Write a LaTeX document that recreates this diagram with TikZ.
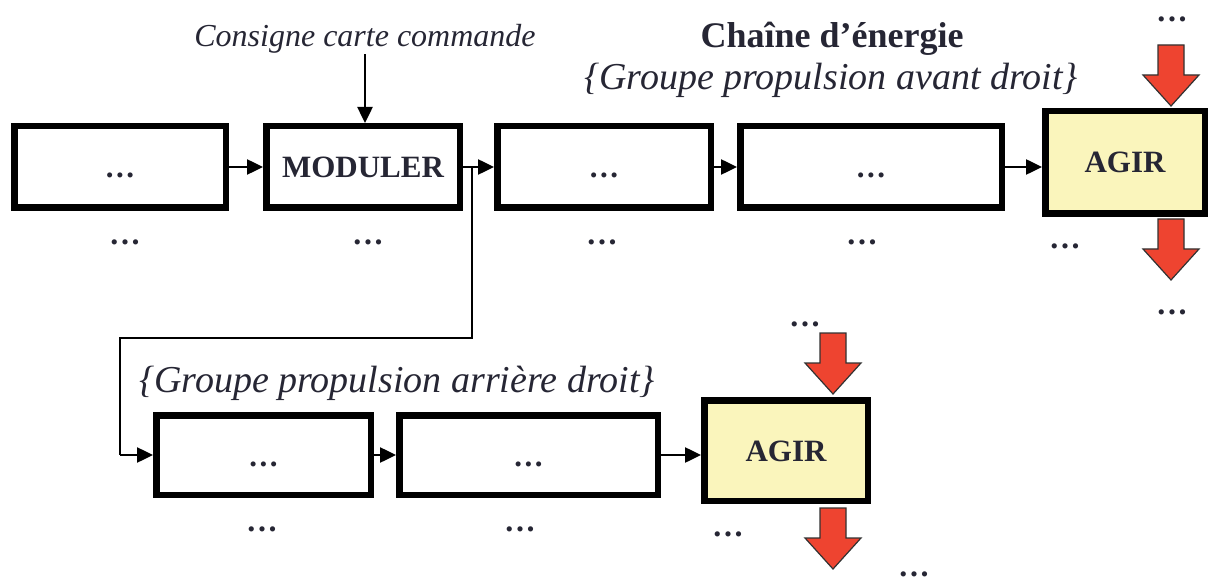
\documentclass[tikz,border=0pt]{standalone}
\usepackage{fontspec}
\setmainfont{Liberation Serif}
\usetikzlibrary{arrows.meta}
\definecolor{ink}{RGB}{38,38,52}
\definecolor{agirfill}{RGB}{250,245,188}
\definecolor{flux}{RGB}{238,68,48}
\definecolor{fluxedge}{RGB}{50,50,50}
\newcommand{\pts}{.\kern0.08em.\kern0.08em.}
\tikzset{
  stepbox/.style={draw=black, line width=6.5pt, fill=white, inner sep=0pt,
    text=ink, font=\fontsize{31}{36}\selectfont\bfseries,
    text height=25pt, text depth=3pt},
  agirbox/.style={stepbox, fill=agirfill, text height=21pt, text depth=0pt},
  conn/.style={line width=2.5pt, -{Triangle[length=16pt,width=15pt]}},
  wire/.style={line width=2.5pt},
  dots/.style={text=ink, font=\fontsize{32}{36}\selectfont\bfseries, inner sep=0pt, anchor=base},
  italabel/.style={text=ink, font=\fontsize{38}{44}\selectfont\itshape, inner sep=0pt, anchor=base},
  redarrow/.style={fill=flux, draw=fluxedge, line width=1.2pt, line join=miter},
  pics/bigarrow/.style={code={
    \draw[redarrow] (-13,0) -- (13,0) -- (13,30) -- (28,30) -- (0,61)
      -- (-28,30) -- (-13,30) -- cycle;}}
}
\begin{document}
\begin{tikzpicture}[x=1pt,y=-1pt]
\useasboundingbox (0,0) rectangle (1209,577);

% titles
\node[text=ink, font=\fontsize{36}{42}\selectfont\bfseries, inner sep=0pt, anchor=base] (titre) at (832,48) {Chaîne d’énergie};
\node[italabel] (gavant) at (831,90) {\{Groupe propulsion avant droit\}};
\node[italabel] (garriere) at (397,392) {\{Groupe propulsion arrière droit\}};
\node[text=ink, font=\fontsize{32}{38}\selectfont\itshape, inner sep=0pt, anchor=base] (consigne) at (365,47) {Consigne carte commande};

% top chain
\node[stepbox, minimum width=211.5pt, minimum height=81.5pt] (b1) at (120,167) {\pts};
\node[stepbox, minimum width=193.5pt, minimum height=81.5pt] (b2) at (363,167) {MODULER};
\node[stepbox, minimum width=213.5pt, minimum height=81.5pt] (b3) at (604,167) {\pts};
\node[stepbox, minimum width=261.5pt, minimum height=81.5pt] (b4) at (871,167) {\pts};
\node[agirbox, minimum width=159.5pt, minimum height=102.5pt] (a1) at (1125,162.5) {AGIR};

% bottom chain
\node[stepbox, minimum width=214.5pt, minimum height=79.5pt] (b5) at (263.5,455) {\pts};
\node[stepbox, minimum width=258.5pt, minimum height=79.5pt] (b6) at (528.5,455) {\pts};
\node[agirbox, minimum width=163.5pt, minimum height=100.5pt] (a2) at (786,450.5) {AGIR};

% connectors
\draw[conn] (consigne.south) -- (b2.north -| consigne.south);
\draw[conn] (b1.east) -- (b2.west);
\draw[conn] (b2.east) -- (b3.west);
\draw[conn] (b3.east) -- (b4.west);
\draw[conn] (b4.east) -- (b4.east -| a1.west);
\coordinate (br) at (472,167);
\coordinate (k1) at (472,338);
\coordinate (k2) at (120,338);
\draw[wire, line join=miter] (br) -- (k1) -- (k2) -- (k2 |- b5.west);
\draw[conn] (k2 |- b5.west) -- (b5.west);
\draw[conn] (b5.east) -- (b6.west);
\draw[conn] (b6.east) -- (b6.east -| a2.west);

% energy flows
\pic at (1171,45) {bigarrow};
\pic at (1171,219) {bigarrow};
\pic at (833,333) {bigarrow};
\pic at (833,508) {bigarrow};

% placeholder dots
\node[dots] (d1) at (125,245) {\pts};
\node[dots] (d2) at (368,245) {\pts};
\node[dots] (d3) at (602,245) {\pts};
\node[dots] (d4) at (862,245) {\pts};
\node[dots] (d5) at (1065,249) {\pts};
\node[dots] (d6) at (1172,22) {\pts};
\node[dots] (d7) at (1172,314) {\pts};
\node[dots] (d8) at (262,531) {\pts};
\node[dots] (d9) at (520,531) {\pts};
\node[dots] (d10) at (805,326) {\pts};
\node[dots] (d11) at (728,536) {\pts};
\node[dots] (d12) at (914,576.5) {\pts};
\end{tikzpicture}
\end{document}
